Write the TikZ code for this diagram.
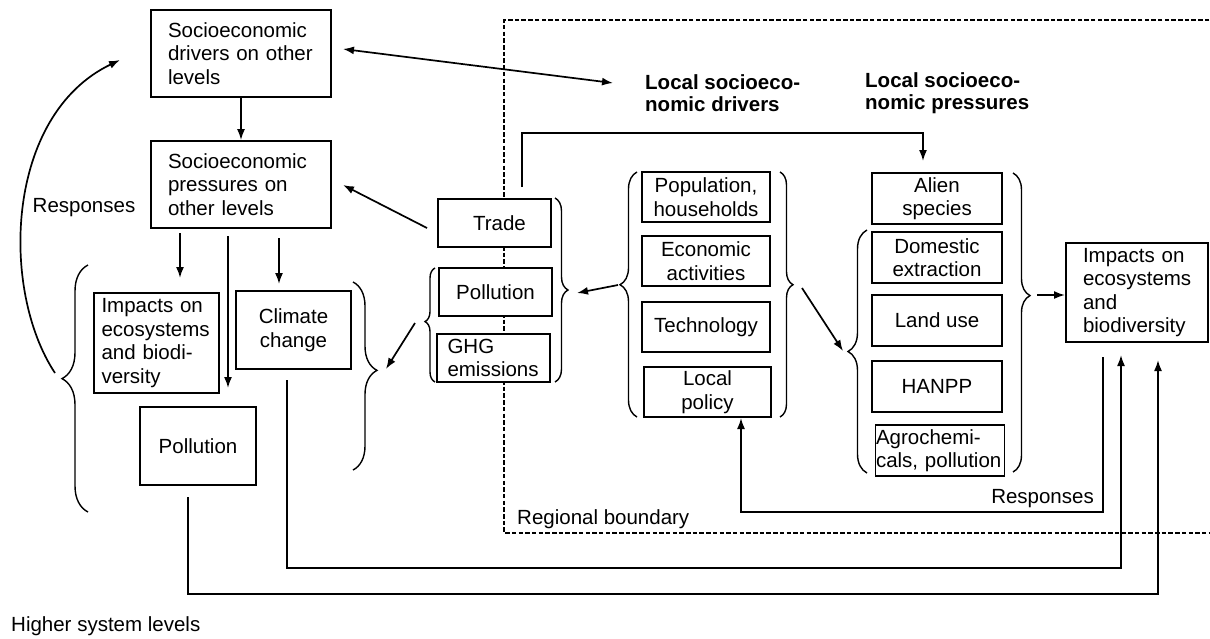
\documentclass[tikz,border=0pt]{standalone}
\usepackage{fontspec}
\setmainfont{Liberation Sans}
\usetikzlibrary{arrows.meta,decorations.pathreplacing}

\begin{document}
\begin{tikzpicture}[x=1pt,y=-1pt,
  font=\fontsize{20.5}{23.5}\selectfont,
  box/.style={draw, fill=white, line width=1.8pt, inner sep=0pt, align=center},
  heavybox/.style={box, line width=2.6pt},
  tip/.style={-{Latex[length=11pt,width=8pt]}},
  conn/.style={line width=1.7pt, tip},
  lbl/.style={inner sep=0pt},
  bound/.style={line width=1.6pt, dash pattern=on 4.5pt off 2.2pt},
  brc/.style={line width=1.4pt, decorate}
]
\useasboundingbox (0,0) rectangle (1210,638);

% regional boundary (dashed frame, open to the right)
\draw[bound] (1216,20) -- (504,20) -- (504,533) -- (1216,533);

% ---- higher system levels ----
\node[box, minimum width=180pt, minimum height=87pt, text width=146pt, align=left] (drv) at (241,53.5)
  {Socioeconomic\\drivers on other\\levels};
\node[box, minimum width=180pt, minimum height=87pt, text width=146pt, align=left] (prs) at (241,184.5)
  {Socioeconomic\\pressures on\\other levels};
\node[heavybox, minimum width=125pt, minimum height=100pt, text width=110pt, align=left] (impL) at (156.5,343)
  {Impacts on\\ecosystems\\and biodi-\\versity};
\node[box, minimum width=115pt, minimum height=78pt] (clim) at (293.5,330) {Climate\\change};
\node[box, minimum width=116pt, minimum height=78pt] (polL) at (198,446) {Pollution};

% ---- exchanges across the boundary ----
\node[box, minimum width=113pt, minimum height=48pt] (trade) at (494.5,223) {\hspace*{10pt}Trade};
\node[heavybox, minimum width=113pt, minimum height=48pt] (polM) at (495.5,292) {Pollution};
\node[box, minimum width=113pt, minimum height=48pt, text width=92pt, align=left] (ghg) at (493.5,358)
  {GHG\\emissions};

% ---- local drivers ----
\node[box, minimum width=128pt, minimum height=50pt] (pop) at (706,197) {Population,\\households};
\node[box, minimum width=128pt, minimum height=50pt] (eco) at (706,261) {Economic\\activities};
\node[heavybox, minimum width=128pt, minimum height=50pt] (tech) at (706,327) {Technology};
\node[box, minimum width=127pt, minimum height=50pt] (pol2) at (707.5,392) {Local\\policy};

% ---- local pressures ----
\node[box, minimum width=130pt, minimum height=51pt] (alien) at (937,198.5) {Alien\\species};
\node[box, minimum width=130pt, minimum height=51pt] (dom) at (937,257.5) {Domestic\\extraction};
\node[box, minimum width=130pt, minimum height=51pt] (land) at (937,320.5) {Land use};
\node[box, minimum width=130pt, minimum height=51pt] (hanpp) at (937,386.5) {HANPP};
\node[box, minimum width=129pt, minimum height=51pt, text width=128pt, align=left] (agro) at (940,450.5)
  {Agrochemi-\\cals,~pollution};

% ---- local impacts ----
\node[box, minimum width=142pt, minimum height=99pt, text width=108pt, align=left] (impR) at (1137,292.5)
  {Impacts on\\ecosystems\\and\\biodiversity};

% ---- labels ----
\node[lbl] (respL) at (84,208) {Responses};
\node[lbl, anchor=east] (respR) at (1094,499) {Responses};
\node[lbl, anchor=west] (regb) at (517,519) {Regional boundary};
\node[lbl, anchor=west, align=left, font=\fontsize{20.5}{22.5}\selectfont\bfseries] (hdrv) at (645,93)
  {Local socioeco-\\nomic drivers};
\node[lbl, anchor=west, align=left, font=\fontsize{20.5}{22.5}\selectfont\bfseries] (hprs) at (865,93)
  {Local socioeco-\\nomic pressures};
\node[lbl, anchor=west] (hsl) at (11,626) {Higher system levels};

% ---- braces ----
\draw[brc, decoration={brace, amplitude=26pt, aspect=0.54}] (88,512) -- (88,265);
\draw[brc, decoration={brace, amplitude=24pt, aspect=0.47}] (353,282) -- (353,470);
\draw[brc, decoration={brace, amplitude=10pt, aspect=0.53}] (435,382) -- (435,268);
\draw[brc, decoration={brace, amplitude=13pt, aspect=0.50}] (555,198) -- (555,382);
\draw[brc, decoration={brace, amplitude=17pt, aspect=0.54}] (637,417) -- (637,172);
\draw[brc, decoration={brace, amplitude=13pt, aspect=0.46}] (780,172) -- (780,417);
\draw[brc, decoration={brace, amplitude=19pt, aspect=0.50}] (867,473) -- (867,230);
\draw[brc, decoration={brace, amplitude=17pt, aspect=0.41}] (1013,173) -- (1013,472);

% ---- connector end points ----
\coordinate (drvR) at (343,49);
\coordinate (locD) at (613,83);
\coordinate (tradeL) at (427,228);
\coordinate (prsR) at (343,185);
\coordinate (prsA) at (180,233);
\coordinate (impLin) at (180,278);
\coordinate (prsB) at (228,236);
\coordinate (polLin) at (228,388);
\coordinate (prsC) at (279,238);
\coordinate (climIn) at (279,284);
\coordinate (emisTip) at (415,323);
\coordinate (climBr) at (386,369);
\coordinate (drvTipL) at (618,285);
\coordinate (exchBr) at (577,293);
\coordinate (drvTipR) at (802,288);
\coordinate (prsBr) at (843,351);
\coordinate (presTip) at (1037,295);
\coordinate (impRin) at (1065,295);
\coordinate (tradeUp) at (522,187);
\coordinate (alienIn) at (923,161);
\coordinate (impRout) at (1103,357);
\coordinate (pol2in) at (741,418);
\coordinate (climOut) at (287,380);
\coordinate (impRinA) at (1121,355);
\coordinate (polLout) at (188,497);
\coordinate (impRinB) at (1158,360);
\coordinate (respFrom) at (55,373);
\coordinate (respTo) at (120,60);

% ---- connectors ----
\draw[line width=1.7pt, {Latex[length=11pt,width=8pt]}-{Latex[length=11pt,width=8pt]}] (drvR) -- (locD);
\draw[conn] (drv) -- (prs);
\draw[conn] (tradeL) -- (prsR);
\draw[conn] (prsA) -- (impLin);
\draw[conn] (prsB) -- (polLin);
\draw[conn] (prsC) -- (climIn);
\draw[conn] (emisTip) -- (climBr);
\draw[conn] (drvTipL) -- (exchBr);
\draw[conn] (drvTipR) -- (prsBr);
\draw[conn] (presTip) -- (impRin);
\draw[conn] (tradeUp) -- ++(0,-54) -| (alienIn);
\draw[conn] (impRout) -- ++(0,155) -| (pol2in);
\draw[conn] (climOut) -- ++(0,188) -| (impRinA);
\draw[conn] (polLout) -- ++(0,97) -| (impRinB);
\draw[conn] (respFrom) .. controls (0,290) and (5,115) .. (respTo);
\end{tikzpicture}
\end{document}
